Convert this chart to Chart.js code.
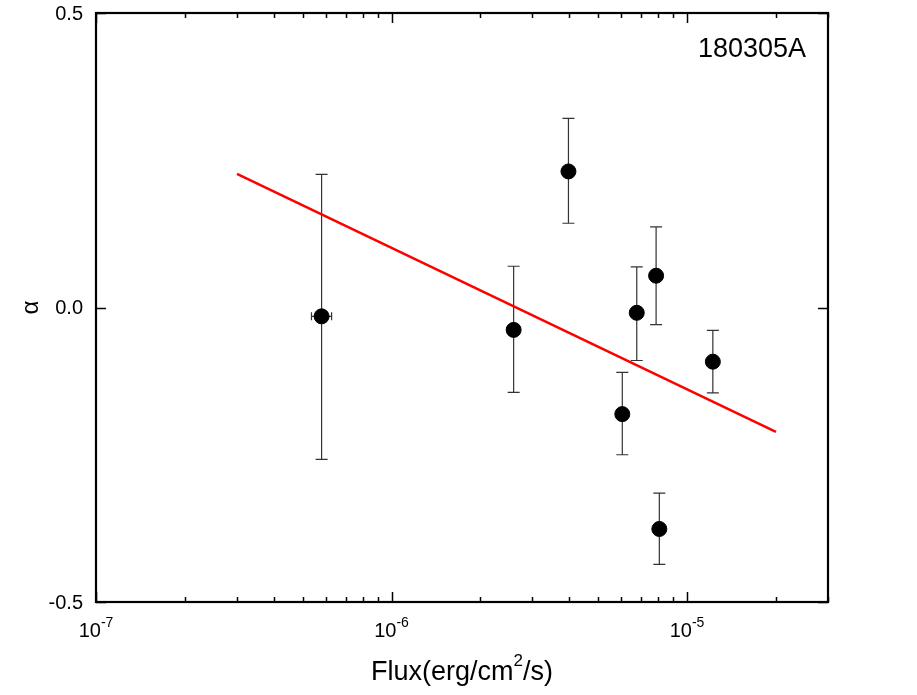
<!DOCTYPE html>
<html>
<head>
<meta charset="utf-8">
<script src="https://cdn.jsdelivr.net/npm/chart.js@4.4.1/dist/chart.umd.min.js"></script>
<style>
  html, body { margin: 0; padding: 0; background: #ffffff; }
  #wrap { position: relative; width: 917px; height: 695px; }
</style>
</head>
<body>
<div id="wrap"><canvas id="c" width="917" height="695"></canvas></div>
<script>
// ---- data ----
const burstName = "180305A";
const fluxValues = [5.80e-7, 2.59e-6, 3.97e-6, 6.04e-6, 6.76e-6, 7.86e-6, 8.06e-6, 1.223e-5];
const alphaValues = [-0.015, -0.038, 0.231, -0.181, -0.009, 0.054, -0.376, -0.092];
const alphaUpper = [0.226, 0.070, 0.321, -0.110, 0.069, 0.137, -0.315, -0.039];
const alphaLower = [-0.258, -0.144, 0.143, -0.250, -0.090, -0.029, -0.436, -0.145];
const fluxLower = [5.36e-7, null, null, null, null, null, null, null];
const fluxUpper = [6.27e-7, null, null, null, null, null, null, null];
const fitFlux = [3e-7, 2e-5];
const fitAlpha = [0.227, -0.211];
const yTickValues = [-0.5, 0.0, 0.5];
const yTickLabels = ["-0.5", "0.0", "0.5"];
const xDecadeValues = [1e-7, 1e-6, 1e-5];
const xDecadeExponents = ["-7", "-6", "-5"];
const xTitleMain = "Flux(erg/cm";
const xTitleSup = "2";
const xTitleEnd = "/s)";
const yTitle = "α";

const FONT = "'Liberation Sans', Arial, sans-serif";

const pointData = fluxValues.map((x, i) => ({ x: x, y: alphaValues[i] }));
const fitData = fitFlux.map((x, i) => ({ x: x, y: fitAlpha[i] }));

const errorBarPlugin = {
  id: 'errorBars',
  beforeDatasetsDraw(chart) {
    const ctx = chart.ctx;
    const xs = chart.scales.x, ys = chart.scales.y;
    ctx.save();
    ctx.strokeStyle = '#333333';
    ctx.lineWidth = 1.2;
    const cap = 6;
    for (let i = 0; i < fluxValues.length; i++) {
      const px = xs.getPixelForValue(fluxValues[i]);
      const py = ys.getPixelForValue(alphaValues[i]);
      const pu = ys.getPixelForValue(alphaUpper[i]);
      const pl = ys.getPixelForValue(alphaLower[i]);
      ctx.beginPath();
      ctx.moveTo(px, pu); ctx.lineTo(px, pl);
      ctx.moveTo(px - cap, pu); ctx.lineTo(px + cap, pu);
      ctx.moveTo(px - cap, pl); ctx.lineTo(px + cap, pl);
      ctx.stroke();
      if (fluxLower[i] !== null) {
        const xl = xs.getPixelForValue(fluxLower[i]);
        const xu = xs.getPixelForValue(fluxUpper[i]);
        ctx.beginPath();
        ctx.moveTo(xl, py); ctx.lineTo(xu, py);
        ctx.moveTo(xl, py - 4); ctx.lineTo(xl, py + 4);
        ctx.moveTo(xu, py - 4); ctx.lineTo(xu, py + 4);
        ctx.stroke();
      }
    }
    ctx.restore();
  }
};

const framePlugin = {
  id: 'frame',
  afterDraw(chart) {
    const ctx = chart.ctx;
    const a = chart.chartArea;
    const xs = chart.scales.x, ys = chart.scales.y;
    ctx.save();
    ctx.strokeStyle = '#000000';
    ctx.lineWidth = 2.2;
    ctx.strokeRect(a.left, a.top, a.right - a.left, a.bottom - a.top);
    // x ticks (top and bottom)
    ctx.lineWidth = 1.5;
    ctx.beginPath();
    for (let e = -7; e <= -5; e++) {
      for (let m = 1; m <= 9; m++) {
        const v = m * Math.pow(10, e);
        if (v > xs.max * 1.0001) continue;
        const px = Math.round(xs.getPixelForValue(v)) + 0.5;
        const len = (m === 1) ? 10 : 5;
        ctx.moveTo(px, a.bottom); ctx.lineTo(px, a.bottom - len);
        ctx.moveTo(px, a.top); ctx.lineTo(px, a.top + len);
      }
    }
    // y ticks (left and right)
    yTickValues.forEach(v => {
      const py = Math.round(ys.getPixelForValue(v)) + 0.5;
      ctx.moveTo(a.left, py); ctx.lineTo(a.left + 10, py);
      ctx.moveTo(a.right, py); ctx.lineTo(a.right - 10, py);
    });
    ctx.stroke();

    ctx.fillStyle = '#000000';
    // y tick labels
    ctx.font = '20px ' + FONT;
    ctx.textAlign = 'right';
    ctx.textBaseline = 'middle';
    yTickValues.forEach((v, i) => {
      ctx.fillText(yTickLabels[i], a.left - 13, ys.getPixelForValue(v) + 1);
    });
    // x tick labels with superscript exponents
    ctx.textBaseline = 'alphabetic';
    ctx.textAlign = 'left';
    xDecadeValues.forEach((v, i) => {
      const px = xs.getPixelForValue(v);
      ctx.font = '20px ' + FONT;
      const wMain = ctx.measureText('10').width;
      ctx.font = '14px ' + FONT;
      const wSup = ctx.measureText(xDecadeExponents[i]).width;
      const start = px - (wMain + wSup) / 2;
      ctx.font = '20px ' + FONT;
      ctx.fillText('10', start, 637);
      ctx.font = '14px ' + FONT;
      ctx.fillText(xDecadeExponents[i], start + wMain, 627);
    });
    // x axis title
    ctx.font = '27px ' + FONT;
    const w1 = ctx.measureText(xTitleMain).width;
    const w3 = ctx.measureText(xTitleEnd).width;
    ctx.font = '17px ' + FONT;
    const w2 = ctx.measureText(xTitleSup).width;
    const cx = (a.left + a.right) / 2;
    let sx = cx - (w1 + w2 + w3) / 2;
    ctx.font = '27px ' + FONT;
    ctx.fillText(xTitleMain, sx, 680);
    ctx.font = '17px ' + FONT;
    ctx.fillText(xTitleSup, sx + w1, 666);
    ctx.font = '27px ' + FONT;
    ctx.fillText(xTitleEnd, sx + w1 + w2, 680);
    // y axis title
    ctx.save();
    ctx.translate(31, (a.top + a.bottom) / 2);
    ctx.rotate(-Math.PI / 2);
    ctx.textAlign = 'center';
    ctx.textBaseline = 'middle';
    ctx.font = '24px ' + FONT;
    ctx.fillText(yTitle, 0, 0);
    ctx.restore();
    // burst label
    ctx.font = '27px ' + FONT;
    ctx.textAlign = 'left';
    ctx.textBaseline = 'alphabetic';
    ctx.fillText(burstName, 698, 57);
    ctx.restore();
  }
};

new Chart(document.getElementById('c'), {
  type: 'scatter',
  data: {
    datasets: [
      {
        label: 'data',
        data: pointData,
        backgroundColor: '#000000',
        borderColor: '#000000',
        pointRadius: 7.5,
        pointHoverRadius: 7.5,
        showLine: false,
        order: 1
      },
      {
        label: 'fit',
        data: fitData,
        borderColor: '#ff0000',
        backgroundColor: '#ff0000',
        borderWidth: 2.5,
        pointRadius: 0,
        showLine: true,
        order: 2
      }
    ]
  },
  options: {
    responsive: false,
    animation: false,
    events: [],
    layout: { padding: { left: 96, top: 13, right: 89, bottom: 93 } },
    plugins: { legend: { display: false }, tooltip: { enabled: false } },
    scales: {
      x: { type: 'logarithmic', min: 1e-7, max: 3e-5, display: false },
      y: { type: 'linear', min: -0.5, max: 0.5, display: false }
    }
  },
  plugins: [errorBarPlugin, framePlugin]
});
</script>
</body>
</html>
